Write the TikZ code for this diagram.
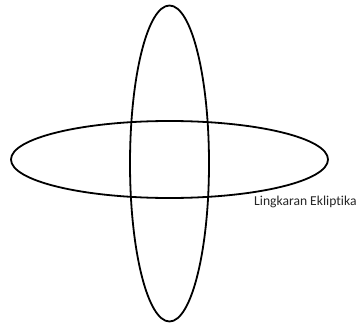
\documentclass[tikz,border=0pt]{standalone}
\usepackage{fontspec}
\setmainfont{Carlito}[Ligatures=NoCommon]
\usetikzlibrary{positioning}

\begin{document}
\begin{tikzpicture}[
  x=1pt, y=-1pt,
  orbit/.style={draw=black, line width=1.8pt},
  labeltext/.style={font=\fontsize{13.6}{15}\selectfont, text=black!85, inner sep=0pt, anchor=west}
]
\useasboundingbox (0,0) rectangle (363,323);

% two crossing circles
\coordinate (vcenter) at (169.5,163.5);
\coordinate (hcenter) at (169.5,159.5);
\draw[orbit] (vcenter) ellipse [x radius=39.5, y radius=158];
\draw[orbit] (hcenter) ellipse [x radius=158.5, y radius=38.5];

\node[labeltext] (ekliptika) at (254,202) {Lingkaran Ekliptika};
\end{tikzpicture}
\end{document}
